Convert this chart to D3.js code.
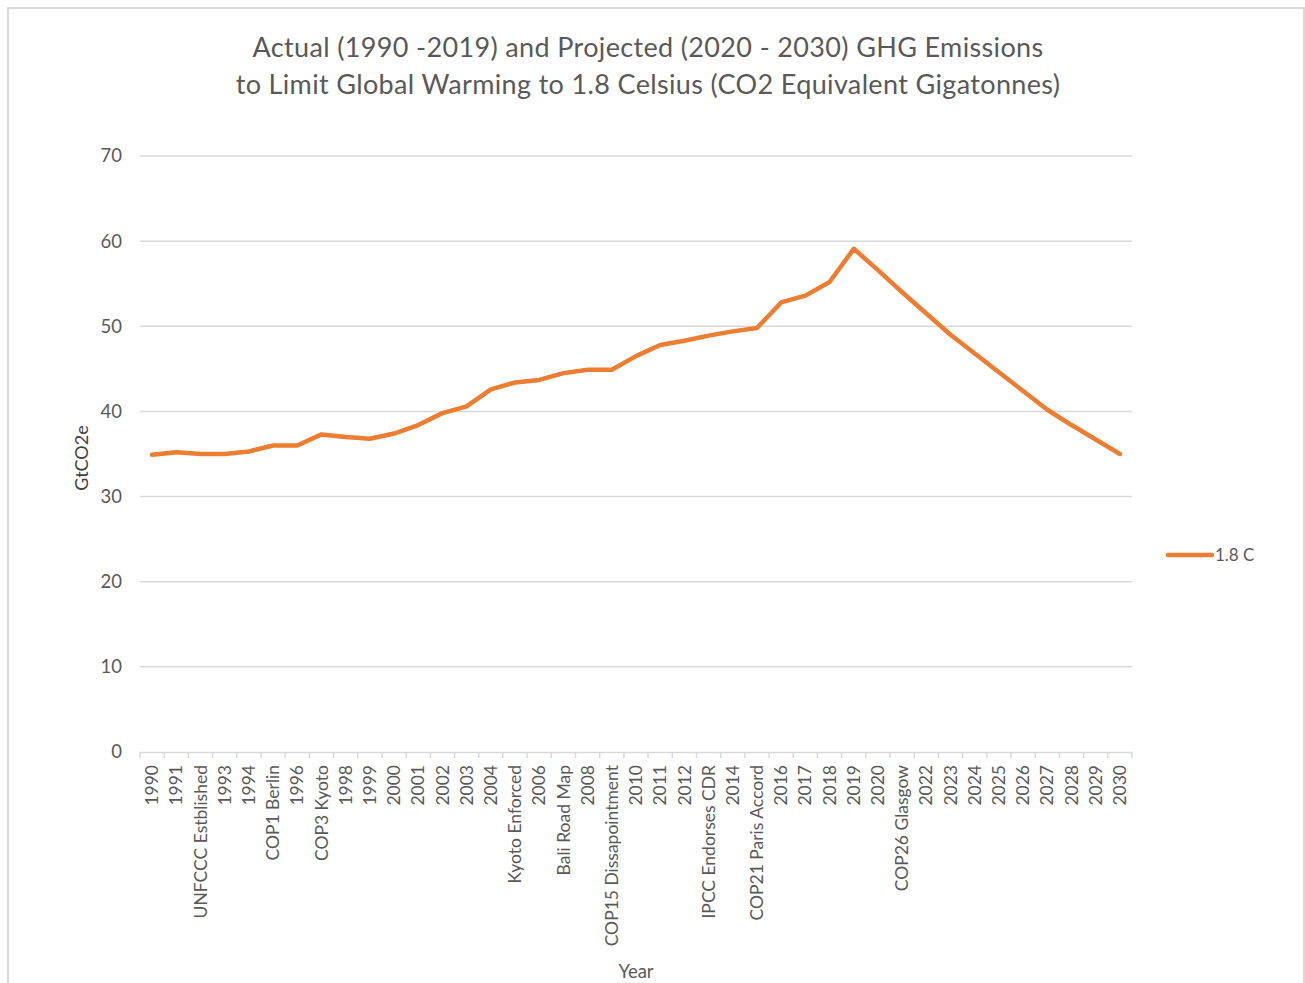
<!DOCTYPE html>
<html>
<head>
<meta charset="utf-8">
<script src="https://cdn.jsdelivr.net/npm/d3@7"></script>
<style>
  html, body { margin: 0; padding: 0; background: #fff; }
  svg { display: block; font-family: Lato, "Open Sans", sans-serif; }
</style>
</head>
<body>
<svg id="chart" width="1305" height="983"></svg>
<script>
// Category labels along the x axis (years, with notable climate milestones)
const categories = [
  "1990", "1991", "UNFCCC Estblished", "1993", "1994", "COP1 Berlin", "1996",
  "COP3 Kyoto", "1998", "1999", "2000", "2001", "2002", "2003", "2004",
  "Kyoto Enforced", "2006", "Bali Road Map", "2008", "COP15 Dissapointment",
  "2010", "2011", "2012", "IPCC Endorses CDR", "2014", "COP21 Paris Accord",
  "2016", "2017", "2018", "2019", "2020", "COP26 Glasgow", "2022", "2023",
  "2024", "2025", "2026", "2027", "2028", "2029", "2030"
];

// GHG emissions, GtCO2e (actual 1990-2019, projected 2020-2030)
const emissions = [
  34.9, 35.2, 35.0, 35.0, 35.3, 36.0, 36.0, 37.3, 37.0, 36.8, 37.4, 38.4,
  39.8, 40.6, 42.6, 43.4, 43.7, 44.5, 44.9, 44.9, 46.5, 47.8, 48.3, 48.9,
  49.4, 49.8, 52.8, 53.6, 55.2, 59.1, 56.6, 54.0, 51.5, 49.0, 46.8, 44.6,
  42.4, 40.2, 38.4, 36.7, 35.0
];

const yTicks = [0, 10, 20, 30, 40, 50, 60, 70];
const seriesName = "1.8 C";
const titleLines = [
  "Actual (1990 -2019) and Projected (2020 - 2030) GHG Emissions",
  "to Limit Global Warming to 1.8 Celsius (CO2 Equivalent Gigatonnes)"
];

const svg = d3.select("#chart");
const plot = { left: 140, right: 1132, top: 156, bottom: 752 };
const lineColor = "#ed7d31";
const gridColor = "#d9d9d9";
const textColor = "#595959";

// Outer frame
svg.append("rect")
  .attr("x", 8).attr("y", 8)
  .attr("width", 1296).attr("height", 990)
  .attr("fill", "#fff")
  .attr("stroke", gridColor).attr("stroke-width", 2);

const x = d3.scaleBand().domain(categories).range([plot.left, plot.right]).padding(0);
const y = d3.scaleLinear().domain([0, 70]).range([plot.bottom, plot.top]);

// Horizontal gridlines
svg.append("g")
  .selectAll("line")
  .data(yTicks.filter(d => d > 0))
  .join("line")
  .attr("x1", plot.left).attr("x2", plot.right)
  .attr("y1", d => y(d)).attr("y2", d => y(d))
  .attr("stroke", gridColor).attr("stroke-width", 1.5);

// Y axis labels
const yAxis = svg.append("g")
  .attr("transform", `translate(${plot.left},0)`)
  .call(d3.axisLeft(y).tickValues(yTicks).tickSize(0).tickPadding(18));
yAxis.select(".domain").remove();
yAxis.selectAll("text")
  .attr("fill", textColor)
  .style("font-size", "18.5px")
  .style("font-family", "Lato, 'Open Sans', sans-serif");

// X axis with ticks at category boundaries
const xAxis = svg.append("g")
  .attr("transform", `translate(0,${plot.bottom})`)
  .call(d3.axisBottom(x).tickSize(0).tickPadding(0));
xAxis.select(".domain")
  .attr("stroke", gridColor).attr("stroke-width", 1.5);
xAxis.selectAll(".tick line").remove();
xAxis.selectAll(".tick text")
  .attr("fill", textColor)
  .style("font-size", "17.5px")
  .style("font-family", "Lato, 'Open Sans', sans-serif")
  .attr("text-anchor", "end")
  .attr("dy", "0.35em")
  .attr("transform", "translate(0,13) rotate(-90)");

const boundaries = categories.map(c => x(c)).concat([plot.right]);
svg.append("g")
  .selectAll("line")
  .data(boundaries)
  .join("line")
  .attr("x1", d => d).attr("x2", d => d)
  .attr("y1", plot.bottom).attr("y2", plot.bottom + 6)
  .attr("stroke", gridColor).attr("stroke-width", 1.5);

// Emissions line
const line = d3.line()
  .x((d, i) => x(categories[i]) + x.bandwidth() / 2)
  .y(d => y(d));
svg.append("path")
  .datum(emissions)
  .attr("d", line)
  .attr("fill", "none")
  .attr("stroke", lineColor)
  .attr("stroke-width", 4.5)
  .attr("stroke-linejoin", "round")
  .attr("stroke-linecap", "round");

// Title
svg.append("text")
  .attr("x", 648).attr("y", 57)
  .attr("text-anchor", "middle")
  .attr("fill", textColor)
  .style("font-size", "27px")
  .style("letter-spacing", "0.35px")
  .selectAll("tspan")
  .data(titleLines)
  .join("tspan")
  .attr("x", 648)
  .attr("dy", (d, i) => i === 0 ? 0 : 37)
  .text(d => d);

// Axis titles
svg.append("text")
  .attr("x", 636).attr("y", 978)
  .attr("text-anchor", "middle")
  .attr("fill", textColor)
  .style("font-size", "18.5px")
  .text("Year");

svg.append("text")
  .attr("transform", "translate(88,458) rotate(-90)")
  .attr("text-anchor", "middle")
  .attr("fill", "#404040")
  .style("font-size", "18px")
  .text("GtCO2e");

// Legend
const legend = svg.append("g").attr("transform", "translate(1168,555)");
legend.append("line")
  .attr("x1", 0).attr("x2", 44)
  .attr("y1", 0).attr("y2", 0)
  .attr("stroke", lineColor).attr("stroke-width", 4.5)
  .attr("stroke-linecap", "round");
legend.append("text")
  .attr("x", 47).attr("y", 0)
  .attr("dy", "0.35em")
  .attr("fill", textColor)
  .style("font-size", "17px")
  .text(seriesName);
</script>
</body>
</html>
